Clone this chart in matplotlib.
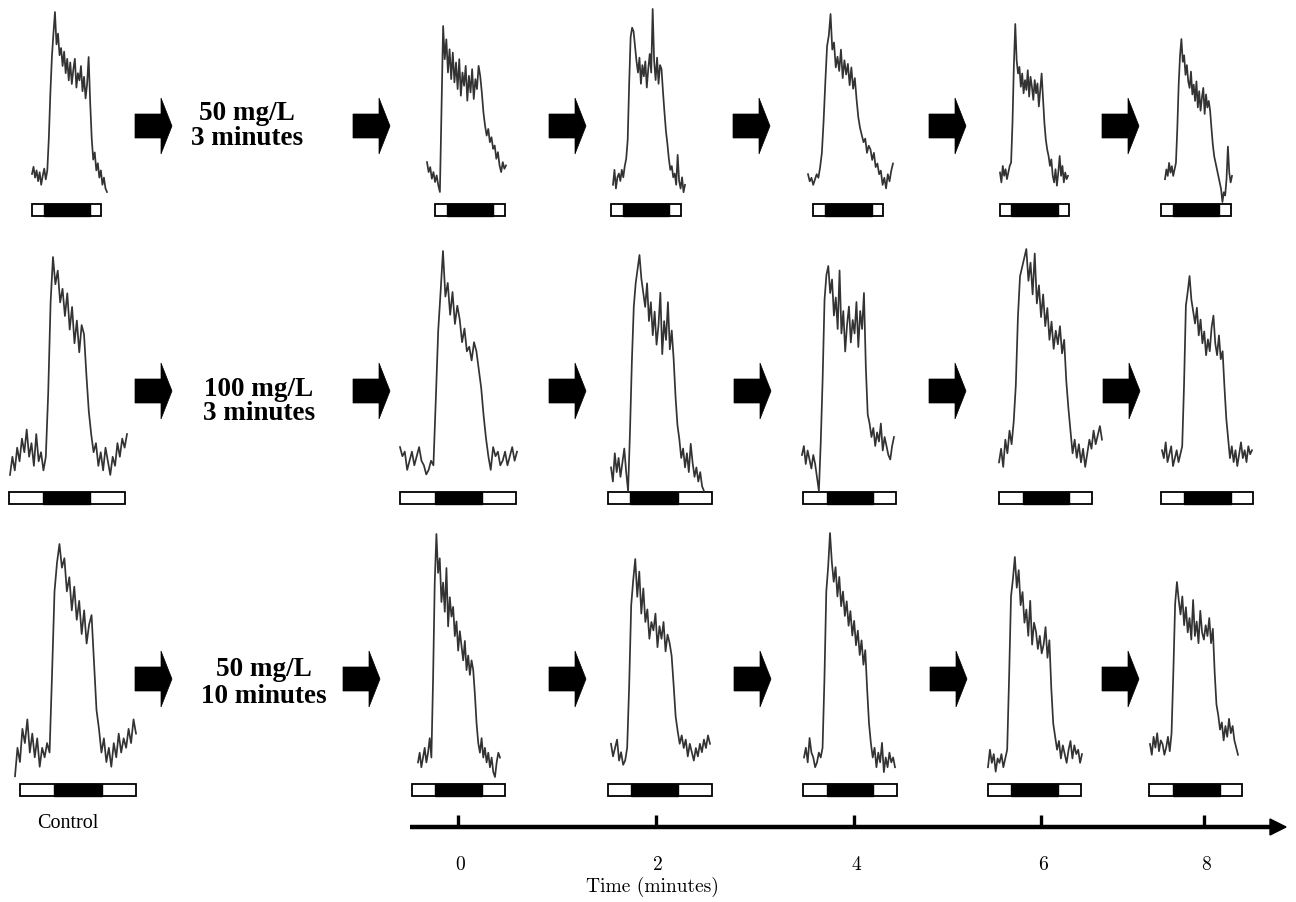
import matplotlib
matplotlib.use("Agg")
import matplotlib.pyplot as plt
from matplotlib.patches import Rectangle, Polygon

W, H = 1296, 903

# ---- recorded traces (relative response, 0 = trace bottom, 100 = peak) ----
r1_control = [10, 14, 8, 12, 6, 11, 4, 9, 13, 7, 12, 30, 55, 75, 88, 100,
              82, 88, 76, 80, 70, 78, 66, 74, 62, 72, 60, 68, 74, 58, 66, 62, 70, 56, 64, 52, 60,
              75, 50, 30, 18, 22, 12, 16, 8, 12, 4, 8, 2, 0]
r1_t0 = [18, 12, 15, 8, 12, 6, 10, 4, 0, 50, 100,
         80, 92, 72, 86, 68, 84, 66, 78, 62, 80, 58, 72, 64, 76, 55, 70, 60, 74, 56, 68, 62, 76, 70,
         60, 48, 40, 34, 38, 30, 33, 26, 28, 20, 24, 16, 12, 18, 14, 16]
r1_t2 = [6, 14, 4, 10, 12, 8, 14, 10, 16, 20, 30, 60, 85,
         90, 88, 80, 72, 66, 74, 60, 70, 64, 72, 58, 68, 76, 66, 100, 72, 62, 74, 60, 70, 68, 56,
         45, 35, 28, 20, 14, 16, 10, 12, 6, 22, 8, 4, 10, 2, 6]
r1_t4 = [10, 6, 8, 4, 7, 10, 8, 14, 22, 40, 62, 82, 88, 100,
         80, 84, 70, 76, 68, 80, 64, 74, 66, 72, 60, 70, 58, 64, 52, 42, 36, 32,
         28, 30, 22, 26, 24, 18, 22, 14, 16, 10, 12, 4, 8, 2, 10, 6, 12, 16]
r1_t6 = [10, 4, 14, 8, 12, 6, 10, 14, 16, 40, 75, 100,
         78, 70, 74, 62, 70, 58, 66, 60, 72, 56, 68, 62, 54, 66, 58, 64, 50, 60, 70, 55,
         40, 30, 24, 20, 14, 18, 8, 4, 12, 2, 10, 20, 8, 14, 4, 10, 6, 8]
r1_t8 = [14, 20, 16, 24, 18, 22, 16, 20, 24, 45, 72, 90, 100,
         86, 90, 78, 84, 74, 70, 80, 66, 72, 62, 74, 58, 68, 56, 64, 70, 54, 66, 58, 62, 56,
         45, 35, 28, 24, 20, 16, 12, 8, 0, 6, 4, 14, 34, 18, 12, 16]

r2_control = [4, 12, 6, 16, 10, 20, 14, 24, 12, 18, 8, 22, 10, 14, 6, 12, 40, 80, 100,
              88, 94, 80, 86, 74, 84, 68, 78, 62, 72, 58, 70, 66, 48, 32, 22,
              14, 18, 8, 14, 6, 16, 10, 4, 12, 8, 18, 12, 20, 16, 22]
r2_t0 = [14, 10, 12, 4, 8, 12, 6, 10, 14, 8, 6, 2, 4, 8, 6, 35, 65, 82, 100,
         80, 86, 72, 82, 68, 76, 70, 60, 66, 56, 58, 52, 60, 56, 48, 40, 28, 18,
         10, 4, 14, 10, 12, 6, 8, 12, 6, 10, 14, 8, 12]
r2_t2 = [10, 4, 16, 8, 14, 6, 12, 18, 8, 0, 25, 55, 78, 88, 94, 100,
         90, 84, 78, 88, 72, 80, 66, 76, 62, 70, 84, 58, 72, 64, 80, 60, 68, 56, 40, 28,
         22, 14, 18, 10, 16, 8, 20, 12, 6, 10, 4, 8, 2, 0]
r2_t4 = [16, 20, 12, 18, 14, 10, 16, 12, 6, 0, 22, 50, 85, 96, 100,
         88, 94, 78, 86, 72, 98, 70, 80, 62, 74, 82, 66, 76, 70, 84, 64, 80, 72, 88, 55, 34,
         30, 24, 28, 20, 26, 22, 30, 18, 24, 20, 16, 14, 20, 24]
r2_t6 = [6, 12, 4, 16, 10, 20, 14, 24, 40, 70, 88, 92, 96, 100,
         86, 94, 80, 98, 76, 84, 70, 80, 66, 74, 60, 68, 56, 64, 58, 66, 54, 60, 42, 30, 20,
         10, 16, 8, 14, 6, 12, 4, 10, 16, 12, 20, 14, 18, 22, 16]
r2_t8 = [12, 8, 16, 6, 10, 14, 4, 8, 12, 6, 10, 14, 45, 85, 92, 100,
         88, 82, 76, 84, 70, 78, 66, 72, 60, 68, 62, 74, 80, 66, 60, 70, 58, 62, 44, 28, 18,
         8, 14, 6, 12, 4, 10, 16, 8, 12, 6, 14, 10, 12]

r3_control = [2, 14, 8, 22, 16, 26, 12, 20, 10, 18, 6, 14, 10, 16, 12, 45, 80, 92, 100,
              90, 94, 80, 86, 72, 82, 68, 76, 62, 72, 58, 66, 70, 50, 30, 22,
              12, 18, 8, 14, 6, 16, 10, 20, 12, 18, 14, 22, 16, 26, 20]
r3_t0 = [6, 10, 4, 8, 12, 6, 10, 16, 8, 40, 80, 100,
         84, 90, 72, 80, 68, 86, 62, 74, 66, 70, 58, 64, 52, 60, 54, 48, 56, 44, 50, 42, 48, 44,
         34, 22, 14, 10, 16, 8, 12, 6, 10, 4, 8, 2, 0, 6, 10, 8]
r3_t2 = [12, 6, 10, 14, 4, 8, 2, 4, 10, 40, 78, 90, 100,
         82, 94, 74, 86, 70, 76, 62, 70, 66, 74, 58, 68, 62, 70, 56, 64, 60, 54, 40, 25,
         18, 12, 16, 10, 14, 6, 12, 8, 4, 10, 6, 12, 8, 14, 10, 16, 12]
r3_t4 = [8, 12, 6, 16, 10, 8, 4, 6, 10, 8, 12, 40, 76, 86, 100,
         88, 80, 86, 74, 82, 70, 76, 66, 72, 62, 68, 58, 64, 54, 60, 50, 56, 46, 52, 36, 22, 14,
         8, 12, 4, 10, 6, 14, 2, 8, 4, 10, 6, 8, 4]
r3_t6 = [4, 12, 6, 10, 2, 8, 6, 10, 4, 8, 12, 45, 82, 90, 100,
         86, 94, 78, 84, 70, 76, 64, 80, 60, 70, 66, 58, 64, 56, 60, 68, 54, 62, 40, 24,
         18, 12, 16, 8, 14, 10, 6, 12, 16, 8, 14, 10, 12, 6, 10]
r3_t8 = [10, 4, 14, 8, 16, 6, 12, 10, 4, 8, 14, 6, 16, 50, 88, 100,
         90, 82, 92, 76, 86, 72, 80, 68, 90, 70, 78, 66, 84, 72, 68, 76, 70, 80, 66, 74, 50, 32,
         26, 18, 22, 12, 20, 14, 24, 16, 20, 12, 8, 4]

rows = [
    [r1_control, r1_t0, r1_t2, r1_t4, r1_t6, r1_t8],
    [r2_control, r2_t0, r2_t2, r2_t4, r2_t6, r2_t8],
    [r3_control, r3_t0, r3_t2, r3_t4, r3_t6, r3_t8],
]
treatments = [("50 mg/L", "3 minutes"), ("100 mg/L", "3 minutes"), ("50 mg/L", "10 minutes")]
time_labels = ["0", "2", "4", "6", "8"]

# ---- layout in pixels ----
# trace boxes: x0, x1, ytop, ybottom
trace_boxes = [
    [(32, 107, 13, 193), (427, 506, 27, 193), (613, 685, 10, 197),
     (808, 893, 15, 193), (1000, 1068, 25, 190), (1165, 1232, 40, 203)],
    [(10, 127, 258, 485), (400, 517, 252, 480), (611, 704, 256, 492),
     (802, 894, 267, 492), (999, 1102, 250, 477), (1162, 1252, 277, 475)],
    [(15, 136, 545, 782), (418, 500, 535, 778), (611, 710, 560, 770),
     (804, 895, 534, 778), (988, 1082, 558, 777), (1150, 1238, 583, 763)],
]
# stimulus bars: x0, black start, black end, x1
bar_y = [(205, 217), (493, 505), (785, 797)]
bar_boxes = [
    [(32, 44, 90, 101), (435, 447, 493, 505), (611, 623, 669, 681),
     (813, 825, 872, 883), (1000, 1011, 1058, 1069), (1161, 1173, 1219, 1231)],
    [(9, 43, 90, 125), (400, 435, 482, 516), (608, 630, 678, 712),
     (803, 827, 873, 896), (999, 1023, 1069, 1092), (1161, 1184, 1231, 1253)],
    [(20, 54, 102, 136), (412, 435, 482, 505), (608, 631, 678, 712),
     (803, 827, 873, 897), (988, 1011, 1058, 1081), (1149, 1173, 1220, 1242)],
]
arrow_x = [[135, 353, 549, 733, 929, 1102],
           [135, 353, 549, 734, 929, 1103],
           [135, 343, 549, 734, 930, 1102]]
arrow_y = [127, 392, 680]
text_pos = [(247, 120, 145), (259, 396, 420), (264, 676, 703)]
tick_x = [458, 656, 854, 1041, 1204]

fig = plt.figure(figsize=(W / 100, H / 100), dpi=100)
ax = fig.add_axes([0, 0, 1, 1])
ax.set_xlim(0, W)
ax.set_ylim(H, 0)
ax.axis("off")

for r, traces in enumerate(rows):
    for c, vals in enumerate(traces):
        x0, x1, yt, yb = trace_boxes[r][c]
        tax = fig.add_axes([x0 / W, 1 - yb / H, (x1 - x0) / W, (yb - yt) / H])
        tax.plot(range(len(vals)), vals, color="#333333", lw=1.25, clip_on=False)
        tax.set_xlim(0, len(vals) - 1)
        tax.set_ylim(0, 100)
        tax.axis("off")

        a, b0, b1, b = bar_boxes[r][c]
        ya, yb2 = bar_y[r]
        ax.add_patch(Rectangle((a, ya), b - a, yb2 - ya, facecolor="white",
                               edgecolor="black", lw=1.3))
        ax.add_patch(Rectangle((b0, ya), b1 - b0, yb2 - ya, facecolor="black",
                               edgecolor="black", lw=1.0))

    cy = arrow_y[r]
    for xs in arrow_x[r]:
        pts = [(xs, cy - 12), (xs + 26, cy - 12), (xs + 26, cy - 28), (xs + 37, cy),
               (xs + 26, cy + 28), (xs + 26, cy + 12), (xs, cy + 12)]
        ax.add_patch(Polygon(pts, closed=True, facecolor="black", edgecolor="black", lw=0.5))

    tx, l1, l2 = text_pos[r]
    ax.text(tx, l1, treatments[r][0], ha="center", va="baseline", fontsize=19.5,
            fontweight="bold", family="Liberation Serif")
    ax.text(tx, l2, treatments[r][1], ha="center", va="baseline", fontsize=19.5,
            fontweight="bold", family="Liberation Serif")

ax.text(68, 828, "Control", ha="center", va="baseline", fontsize=14.5, family="Liberation Serif")

# time axis
ax.plot([410, 1272], [828, 828], color="black", lw=3.2, solid_capstyle="butt")
ax.add_patch(Polygon([(1270, 820), (1286, 828), (1270, 836)], closed=True,
                     facecolor="black", edgecolor="black"))
for x, lab in zip(tick_x, time_labels):
    ax.plot([x, x], [816, 828], color="black", lw=2.4, solid_capstyle="butt")
    ax.text(x + 2, 870, lab, ha="center", va="baseline", fontsize=14, family="cmr10")
ax.text(652, 892, "Time (minutes)", ha="center", va="baseline", fontsize=14, family="cmr10")

fig.savefig("out.png", dpi=100, facecolor="white")
